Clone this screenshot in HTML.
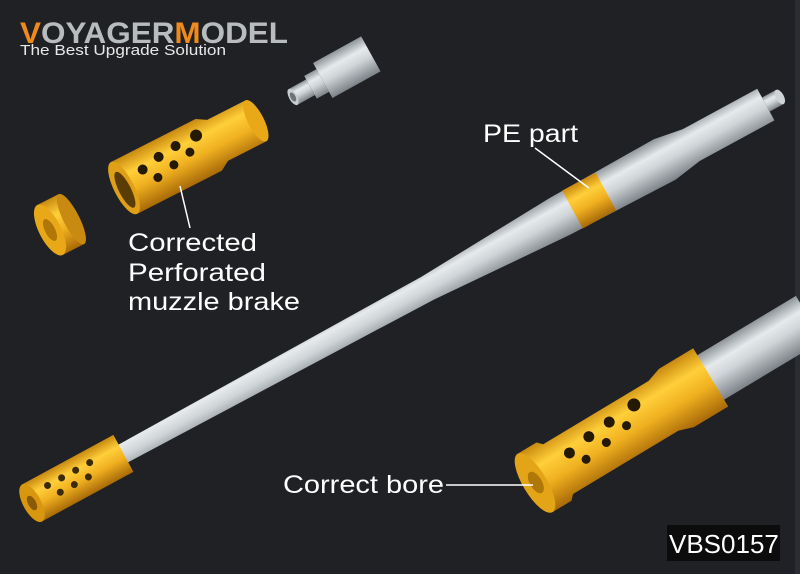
<!DOCTYPE html>
<html><head><meta charset="utf-8"><style>
html,body{margin:0;padding:0;background:#1f2125;}
svg{display:block}
text{font-family:"Liberation Sans",sans-serif;}
</style></head><body>
<svg width="800" height="574" viewBox="0 0 800 574" xmlns="http://www.w3.org/2000/svg">
<defs>
<linearGradient id="g" x1="0" y1="0" x2="0" y2="1">
<stop offset="0" stop-color="#8e9499"/><stop offset="0.3" stop-color="#e6eaec"/><stop offset="0.55" stop-color="#cfd4d7"/><stop offset="1" stop-color="#7c8287"/></linearGradient>
<linearGradient id="o" x1="0" y1="0" x2="0" y2="1">
<stop offset="0" stop-color="#c98a10"/><stop offset="0.3" stop-color="#ffcf3a"/><stop offset="0.6" stop-color="#f0b020"/><stop offset="1" stop-color="#a86a08"/></linearGradient>
</defs>
<rect width="800" height="574" fill="#1f2125"/>
<rect x="795" y="0" width="5" height="574" fill="#2a2d31"/>

<g transform="translate(32,503) rotate(-28.5)">
<path d="M100,-10 L450,-13 L600,-21 L720,-23 L750,-18 L835,-18 L835,18 L750,18 L720,23 L600,21 L450,13 L100,10 Z" fill="url(#g)"/>
<rect x="835" y="-8" width="16" height="16" fill="url(#g)"/>
<ellipse cx="851" cy="0" rx="4" ry="8" fill="#cfd4d7"/>
<rect x="615" y="-21.5" width="38" height="43" fill="url(#o)"/>
<rect x="0" y="-21" width="104" height="42" fill="url(#o)"/>
<ellipse cx="0" cy="0" rx="9" ry="21" fill="#d9960f"/>
<ellipse cx="0" cy="0" rx="4" ry="8" fill="#8a5a06"/>
<g fill="#3a2a05">
<circle cx="22" cy="-8" r="3.5"/><circle cx="38" cy="-8" r="3.5"/><circle cx="54" cy="-8" r="3.5"/><circle cx="70" cy="-8" r="3.5"/>
<circle cx="30" cy="4" r="3.5"/><circle cx="46" cy="4" r="3.5"/><circle cx="62" cy="4" r="3.5"/>
</g>
</g>

<g transform="translate(293,97) rotate(-29)">
<rect x="0" y="-9" width="20" height="18" fill="url(#g)"/>
<rect x="20" y="-13" width="14" height="26" fill="url(#g)"/>
<rect x="34" y="-20" width="55" height="40" fill="url(#g)"/>
<ellipse cx="0" cy="0" rx="4" ry="9" fill="#c8cdd0"/>
<ellipse cx="0" cy="0" rx="2.5" ry="5" fill="#6d7378"/>
</g>

<g transform="translate(124,188) rotate(-27)">
<path d="M0,-29 L95,-29 L105,-23 L148,-23 L148,23 L105,23 L95,29 L0,29 Z" fill="url(#o)"/>
<ellipse cx="148" cy="0" rx="8" ry="23" fill="#e8a818"/>
<ellipse cx="0" cy="0" rx="10" ry="29" fill="#e0a015"/>
<ellipse cx="0" cy="2" rx="6" ry="20" fill="#5a3c05"/>
<g fill="#241a04">
<circle cx="25" cy="-8" r="5"/><circle cx="45" cy="-12" r="5"/><circle cx="65" cy="-14" r="5"/><circle cx="88" cy="-14" r="6"/>
<circle cx="35" cy="6" r="4.5"/><circle cx="55" cy="2" r="4.5"/><circle cx="75" cy="-2" r="4.5"/>
</g>
</g>

<g transform="translate(50,230) rotate(-27)">
<rect x="0" y="-28" width="24" height="56" fill="url(#o)"/>
<ellipse cx="24" cy="0" rx="8" ry="28" fill="#c88a10"/>
<ellipse cx="0" cy="0" rx="11" ry="28" fill="#e8a818"/>
<ellipse cx="0" cy="0" rx="5" ry="12" fill="#b07608"/>
</g>

<g transform="translate(535,483) rotate(-31)">
<rect x="200" y="-26" width="120" height="52" fill="url(#g)"/>
<path d="M0,-34 L22,-34 L27,-29 L150,-29 L165,-34 L205,-34 L205,34 L165,34 L150,29 L27,29 L22,34 L0,34 Z" fill="url(#o)"/>
<ellipse cx="0" cy="0" rx="12" ry="34" fill="#e4a417"/>
<ellipse cx="1" cy="0" rx="6" ry="12" fill="#b07808"/>
<g fill="#241a04">
<circle cx="45" cy="-8" r="5.5"/><circle cx="70" cy="-12" r="5.5"/><circle cx="95" cy="-14" r="5.5"/><circle cx="125" cy="-16" r="6.5"/>
<circle cx="56" cy="6" r="4.5"/><circle cx="82" cy="2" r="4.5"/><circle cx="108" cy="-2" r="4.5"/>
</g>
</g>

<text x="20" y="43" font-size="30" font-weight="bold" fill="#b9bcbf" textLength="268" lengthAdjust="spacingAndGlyphs"><tspan fill="#f08a1c">V</tspan>OYAGER<tspan fill="#f08a1c">M</tspan>ODEL</text>
<text x="20" y="55" font-size="15" fill="#e8e8e8" textLength="206" lengthAdjust="spacingAndGlyphs">The Best Upgrade Solution</text>

<g fill="#ffffff" font-size="25">
<text x="128" y="251" textLength="129" lengthAdjust="spacingAndGlyphs">Corrected</text>
<text x="128" y="281" textLength="138" lengthAdjust="spacingAndGlyphs">Perforated</text>
<text x="128" y="310" textLength="172" lengthAdjust="spacingAndGlyphs">muzzle brake</text>
<text x="483" y="142" textLength="95" lengthAdjust="spacingAndGlyphs">PE part</text>
<text x="283" y="493" textLength="161" lengthAdjust="spacingAndGlyphs">Correct bore</text>
</g>
<g stroke="#ffffff" stroke-width="1.5">
<line x1="180" y1="186" x2="190" y2="228"/>
<line x1="535" y1="148" x2="589" y2="188"/>
<line x1="446" y1="485" x2="533" y2="485"/>
</g>
<rect x="667" y="525" width="113" height="36" fill="#0c0c0c"/>
<text x="669" y="553" font-size="26" fill="#ffffff">VBS0157</text>
</svg>
</body></html>
